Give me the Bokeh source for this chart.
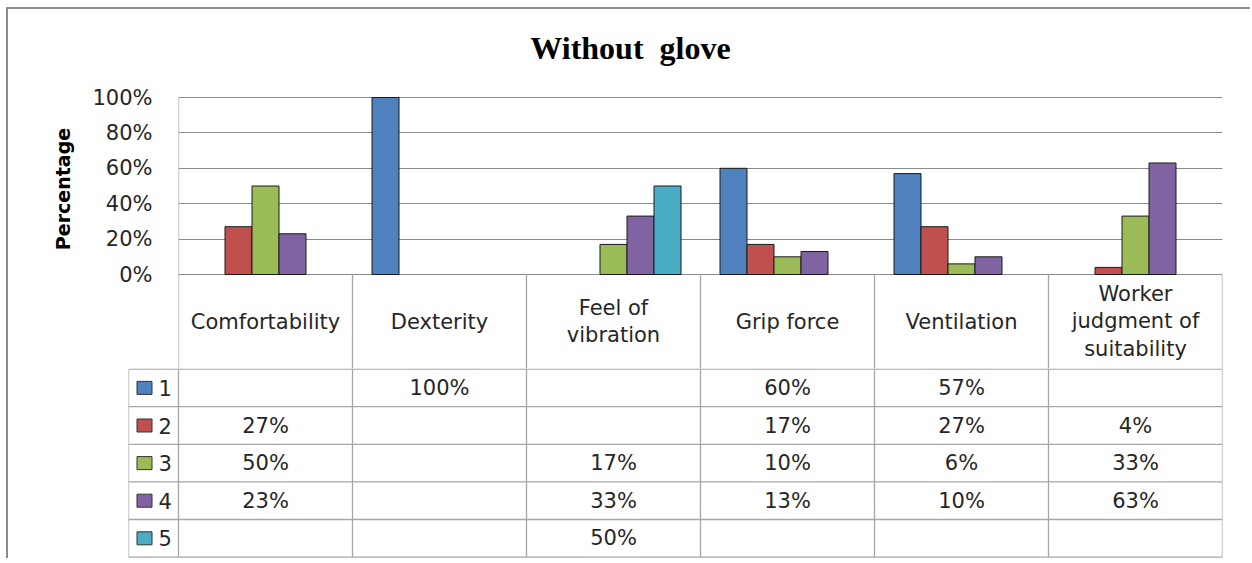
from bokeh.plotting import figure
from bokeh.layouts import column
from bokeh.models import Range1d, FixedTicker, PrintfTickFormatter, ColumnDataSource
from bokeh.embed import file_html
from bokeh.resources import INLINE
from bokeh.core.properties import value

# ---------------- data ----------------
categories = ["Comfortability", "Dexterity", "Feel of\nvibration", "Grip force",
              "Ventilation", "Worker\njudgment of\nsuitability"]
series_names = ["1", "2", "3", "4", "5"]
s1 = [0, 100, 0, 60, 57, 0]
s2 = [27, 0, 0, 17, 27, 4]
s3 = [50, 0, 17, 10, 6, 33]
s4 = [23, 0, 33, 13, 10, 63]
s5 = [0, 0, 50, 0, 0, 0]
series = [s1, s2, s3, s4, s5]
colors = ["#4F81BD", "#C0504D", "#9BBB59", "#8064A2", "#4BACC6"]
y_ticks = [0, 20, 40, 60, 80, 100]
title_text = "Without\u00a0 glove"
y_label = "Percentage"

# ---------------- layout constants ----------------
W = 1250
LEFT = 178               # px, plot area left edge
RIGHT = 1222             # px, plot area right edge
TOP = 9                  # px, top of the drawing frame
Y100 = 97                # px, position of 100%
PX_PER_PCT = 1.77
COL_PX = 174.0           # px per category column
BAR_W = 27.0 / COL_PX    # bar width in category units
LEG_COL = 50.0 / COL_PX  # legend column width in category units
HEADER_H = 94.0          # px, category header row
ROW_H = 37.6             # px, data rows
TITLE_Y = 47             # px
TITLE_X = 630            # px
TXT = "#262626"
GRID = "#8a8a8a"
TBL = "#a6a6a6"
FONT = "DejaVu Sans"
FS = "21px"
ncat = len(categories)
n_series = len(series)

y_top = 100 + (Y100 - TOP) / PX_PER_PCT
y_bot = -HEADER_H / PX_PER_PCT

# ---------------- chart figure (title, bars, category header) ----------------
p = figure(width=W, height=int(round(Y100 + 100 * PX_PER_PCT + HEADER_H)),
           x_range=Range1d(0, ncat), y_range=Range1d(y_bot, y_top),
           output_backend="svg", toolbar_location=None, x_axis_location=None,
           min_border_left=LEFT, min_border_right=W - RIGHT, min_border_top=TOP,
           min_border_bottom=0, border_fill_color=None, frame_align=False)
p.outline_line_color = None
p.background_fill_color = None
p.xgrid.visible = False
p.ygrid.ticker = FixedTicker(ticks=y_ticks)
p.ygrid.grid_line_color = GRID
p.yaxis.ticker = FixedTicker(ticks=y_ticks)
p.yaxis.formatter = PrintfTickFormatter(format="%d%%")
p.yaxis.major_tick_line_color = None
p.yaxis.minor_tick_line_color = None
p.yaxis.axis_line_color = None
p.yaxis.major_label_text_font = FONT
p.yaxis.major_label_text_font_size = FS
p.yaxis.major_label_text_color = TXT
p.yaxis.major_label_standoff = 20
p.yaxis.axis_label = y_label
p.yaxis.axis_label_text_font = FONT
p.yaxis.axis_label_text_font_style = "bold"
p.yaxis.axis_label_text_font_size = "19px"
p.yaxis.axis_label_text_color = "#000000"
p.yaxis.axis_label_standoff = 15

# title
p.text(x=[(TITLE_X - LEFT) / COL_PX], y=[100 + (Y100 - TITLE_Y) / PX_PER_PCT], text=[title_text],
       text_font=value("Liberation Serif"), text_font_style="bold", text_font_size="32px",
       text_color="#000000", text_align="center", text_baseline="middle")

# bars
for j, vals in enumerate(series):
    xs, tops = [], []
    for i, v in enumerate(vals):
        if v > 0:
            xs.append(i + 0.5 + (j - (n_series - 1) / 2) * BAR_W)
            tops.append(v)
    src = ColumnDataSource(dict(x=xs, top=tops))
    p.vbar(x="x", top="top", bottom=0, width=BAR_W, source=src,
           fill_color=colors[j], line_color="#1a1a1a", line_width=1)

# value axis line + header column separators
p.segment(x0=[0], y0=[100], x1=[0], y1=[y_bot - 1], line_color=TBL, line_width=1.3)
vcols = list(range(1, ncat + 1))
p.segment(x0=vcols, y0=[0] * len(vcols), x1=vcols, y1=[y_bot - 1] * len(vcols),
          line_color=TBL, line_width=1.3)

# category header texts
p.text(x=[i + 0.5 for i in range(ncat)], y=[y_bot / 2] * ncat, text=categories,
       text_font=value(FONT), text_font_size=FS, text_color=TXT,
       text_align="center", text_baseline="middle", text_line_height=1.15)

# ---------------- data table figure (legend keys and values) ----------------
TBL_H = n_series * ROW_H + 1.5
t = figure(width=W, height=int(round(TBL_H)), x_range=Range1d(-LEG_COL, ncat),
           y_range=Range1d(round(TBL_H), 0), output_backend="svg", toolbar_location=None,
           x_axis_location=None, y_axis_location=None,
           min_border_left=LEFT - 50, min_border_right=W - RIGHT, min_border_top=0,
           min_border_bottom=0, border_fill_color=None, frame_align=False)
t.outline_line_color = None
t.background_fill_color = None
t.xgrid.visible = False
t.ygrid.visible = False

y_rows = [0.6 + k * ROW_H for k in range(n_series + 1)]
y_end = y_rows[-1]
t.segment(x0=[-LEG_COL] * len(y_rows), y0=y_rows, x1=[ncat] * len(y_rows), y1=y_rows,
          line_color=TBL, line_width=1.3)
vx = list(range(ncat + 1))
t.segment(x0=vx, y0=[0] * len(vx), x1=vx, y1=[y_end] * len(vx), line_color=TBL, line_width=1.3)
t.segment(x0=[-LEG_COL], y0=[y_rows[0]], x1=[-LEG_COL], y1=[y_end], line_color=TBL, line_width=1.3)

row_centers = [(y_rows[k] + y_rows[k + 1]) / 2 for k in range(n_series)]
t.rect(x=[-34 / COL_PX] * n_series, y=row_centers, width=15, height=13,
       width_units="screen", height_units="screen", fill_color=colors,
       line_color="#333333", line_width=1)
t.text(x=[-20 / COL_PX] * n_series, y=row_centers, text=series_names,
       text_font=value(FONT), text_font_size=FS, text_color=TXT,
       text_align="left", text_baseline="middle")

vx_, vy_, vt_ = [], [], []
for j, vals in enumerate(series):
    for i, v in enumerate(vals):
        if v > 0:
            vx_.append(i + 0.5); vy_.append(row_centers[j]); vt_.append(f"{v}%")
t.text(x=vx_, y=vy_, text=vt_, text_font=value(FONT), text_font_size=FS,
       text_color=TXT, text_align="center", text_baseline="middle")

frame_lines = ("linear-gradient(#8c8c8c,#8c8c8c) 6px 7px / 2px 100% no-repeat, "
               "linear-gradient(#8c8c8c,#8c8c8c) 6px 7px / 100% 2px no-repeat")
layout = column(p, t, spacing=0, styles={"background": frame_lines + ", white"})

open("out.html", "w").write(file_html(layout, INLINE))
